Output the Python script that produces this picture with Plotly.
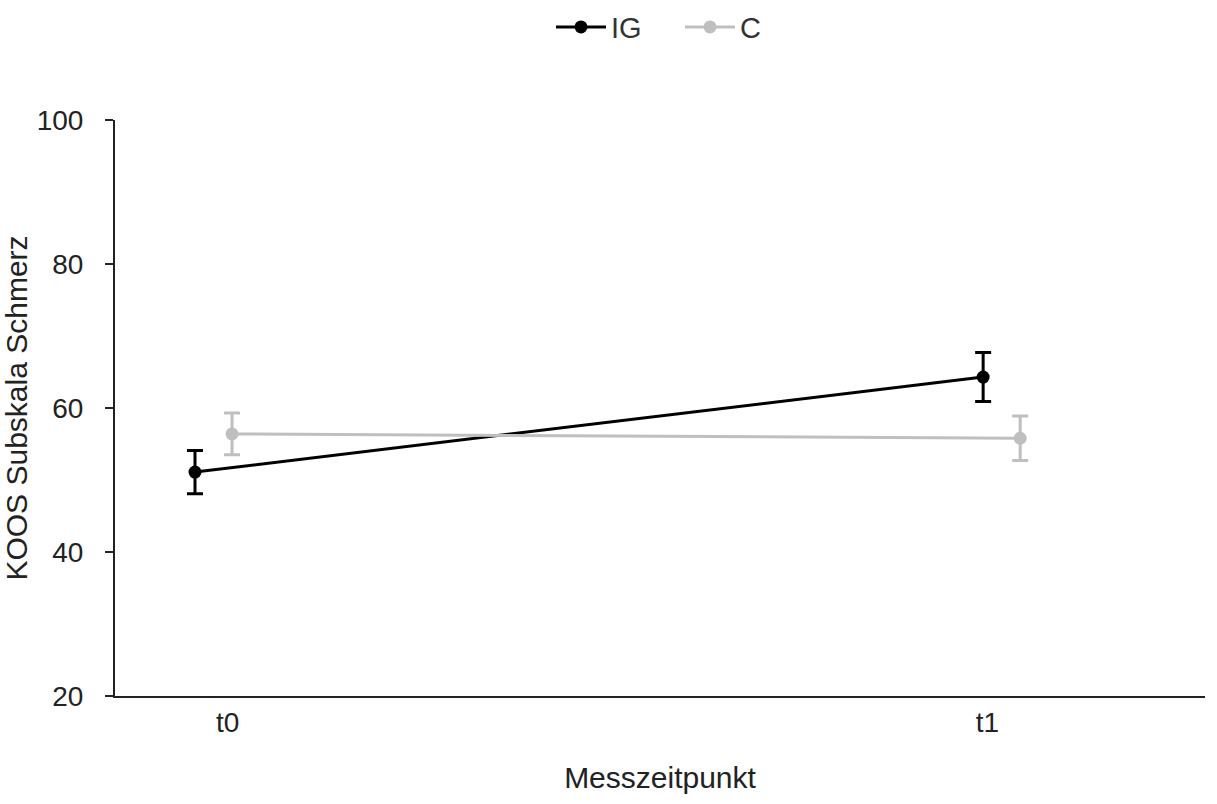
import plotly.graph_objects as go

categories = ["t0", "t1"]
ig_values = [51.1, 64.3]
ig_err = [3.0, 3.4]
c_values = [56.4, 55.8]
c_err = [2.9, 3.1]
y_ticks = [20, 40, 60, 80, 100]

cat_pos = list(range(len(categories)))
ig_x = [p - 0.0235 for p in cat_pos]
c_x = [p + 0.0235 for p in cat_pos]
tick_x = [0.018 + p * 0.964 for p in cat_pos]

FONT = "Liberation Sans, Arial, sans-serif"

fig = go.Figure()
fig.add_trace(go.Scatter(
    x=ig_x, y=ig_values, name="IG", mode="lines+markers",
    line=dict(color="black", width=3),
    marker=dict(color="black", size=13),
    error_y=dict(type="data", array=ig_err, visible=True, color="black", thickness=3, width=8),
))
fig.add_trace(go.Scatter(
    x=c_x, y=c_values, name="C", mode="lines+markers",
    line=dict(color="#BFBFBF", width=3),
    marker=dict(color="#BFBFBF", size=13),
    error_y=dict(type="data", array=c_err, visible=True, color="#BFBFBF", thickness=3, width=8),
))

fig.update_layout(
    width=1217, height=804,
    margin=dict(l=115, r=12, t=120, b=108),
    plot_bgcolor="white", paper_bgcolor="white",
    font=dict(family=FONT, size=28, color="#222222"),
    showlegend=True,
    legend=dict(orientation="h", x=0.4, xanchor="left", y=0.998, yanchor="top",
                yref="container", font=dict(size=29, color="#333333"),
                itemwidth=50, entrywidth=64, traceorder="normal"),
    xaxis=dict(
        range=[-0.125, 1.258], tickvals=tick_x, ticktext=categories,
        showline=True, linecolor="#222222", linewidth=2, ticks="",
        showgrid=False, zeroline=False, tickfont=dict(size=28),
        title=dict(text="Messzeitpunkt", standoff=30, font=dict(size=30)),
    ),
    yaxis=dict(
        range=[20, 100], tickvals=y_ticks,
        showline=True, linecolor="#222222", linewidth=2,
        ticks="outside", ticklen=8, tickcolor="#222222", tickwidth=1.5,
        ticklabelstandoff=16,
        showgrid=False, zeroline=False, tickfont=dict(size=28),
        title=dict(text="KOOS Subskala Schmerz", standoff=4, font=dict(size=30)),
    ),
)

fig.write_html("out.html")
